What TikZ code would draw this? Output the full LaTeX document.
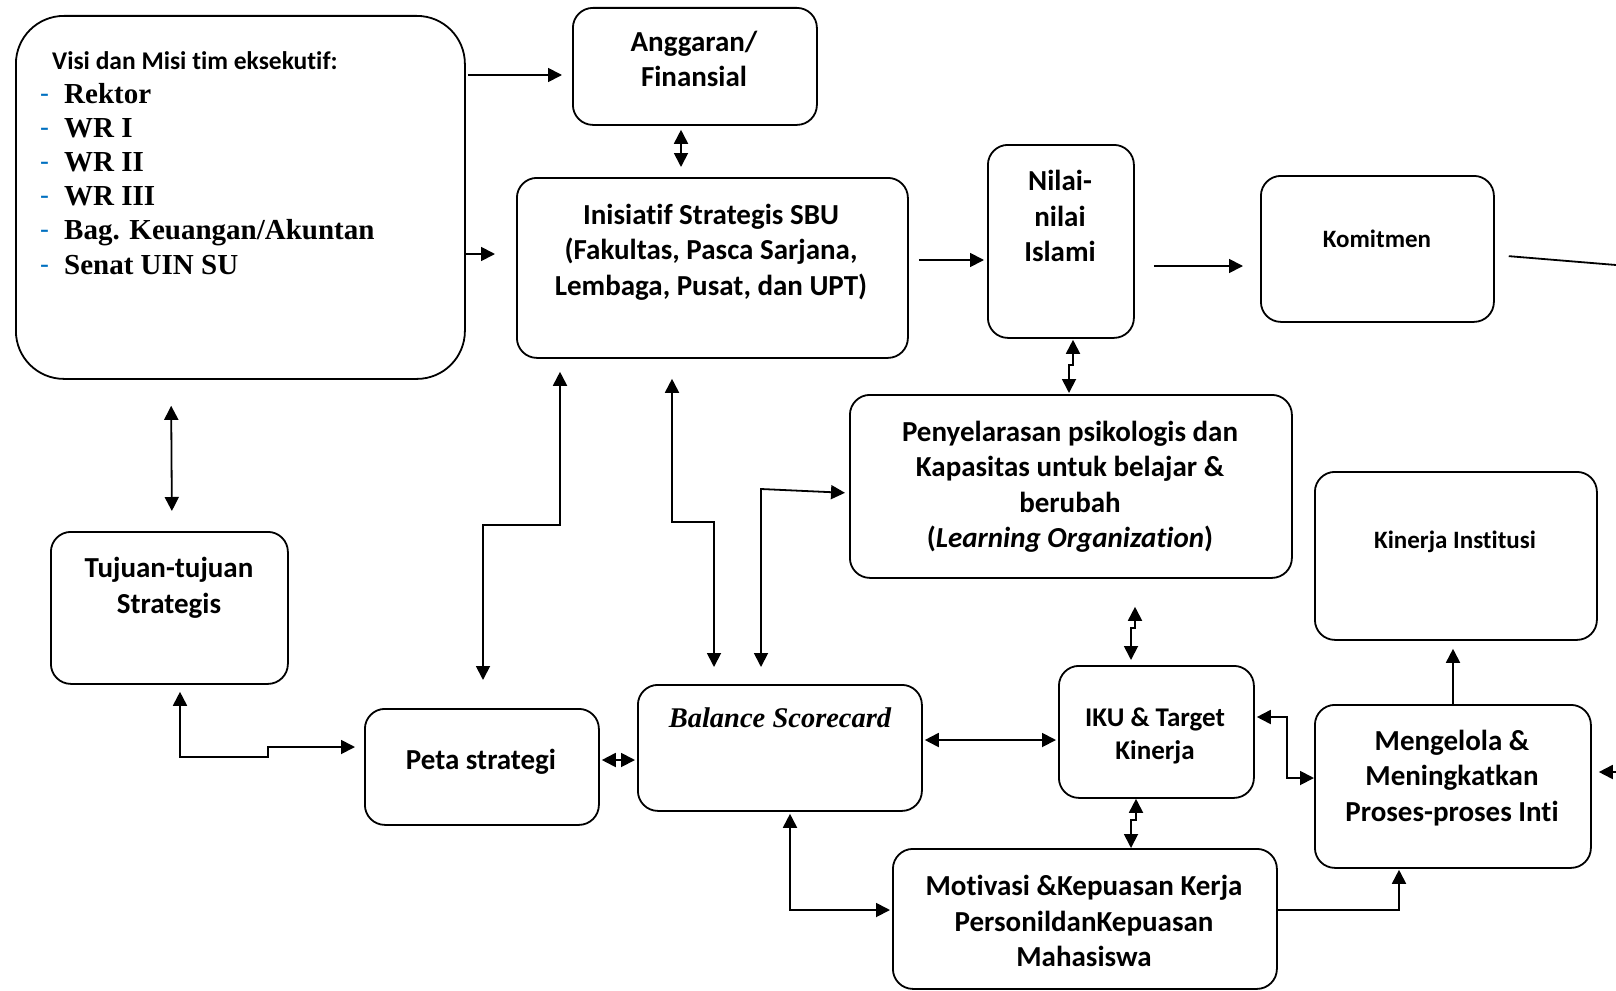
\documentclass[tikz,border=0pt]{standalone}
\usepackage{fontspec}
\usetikzlibrary{arrows.meta}
\newfontfamily\calib{Carlito}[Ligatures=NoCommon]
\newfontfamily\timesf{Liberation Serif}
\definecolor{dashblue}{RGB}{0,112,192}
\newcommand{\dashm}{\makebox[24pt][l]{\textcolor{dashblue}{\calib\mdseries -}}}
\begin{document}
\begin{tikzpicture}[x=1pt,y=-1pt,
  box/.style={draw, line width=1.8pt, rounded corners=20pt, inner sep=0pt, anchor=north west},
  lbl/.style={font={\calib\bfseries\fontsize{29}{35.5}\selectfont}, align=center, inner sep=0pt},
  lblsm/.style={font={\calib\bfseries\fontsize{25}{30.5}\selectfont}, align=center, inner sep=0pt},
  lblik/.style={font={\calib\bfseries\fontsize{27}{33}\selectfont}, align=center, inner sep=0pt},
  item/.style={font={\timesf\bfseries\fontsize{29}{34}\selectfont}, anchor=base west, inner sep=0pt},
  tip/.tip={Triangle[length=14pt,width=14pt]},
  conn/.style={line width=1.8pt},
  arr/.style={conn, -tip},
  darr/.style={conn, tip-tip}
]
\useasboundingbox (0,0) rectangle (1616,990);

% boxes
\node[box, rounded corners=48pt, minimum width=449pt, minimum height=363pt] (visi) at (15,15) {};
\node[box, minimum width=244pt, minimum height=117pt] (angg) at (572,7) {};
\node[box, minimum width=391pt, minimum height=180pt] (inis) at (516,177) {};
\node[box, minimum width=146pt, minimum height=193pt] (nilai) at (987,144) {};
\node[box, minimum width=233pt, minimum height=146pt] (komit) at (1260,175) {};
\node[box, minimum width=442pt, minimum height=183pt] (peny) at (849,394) {};
\node[box, minimum width=282pt, minimum height=168pt] (kiner) at (1314,471) {};
\node[box, minimum width=237pt, minimum height=152pt] (tuju) at (50,531) {};
\node[box, minimum width=234pt, minimum height=116pt] (peta) at (364,708) {};
\node[box, minimum width=284pt, minimum height=126pt] (bsc) at (637,684) {};
\node[box, minimum width=195pt, minimum height=132pt] (iku) at (1058,665) {};
\node[box, minimum width=276pt, minimum height=163pt] (meng) at (1314,704) {};
\node[box, minimum width=384pt, minimum height=140pt] (moti) at (892,848) {};

% texts
\node[font={\calib\bfseries\fontsize{25.5}{30}\selectfont}, anchor=base west, inner sep=0pt] (visiT) at (52,70) {Visi dan Misi tim eksekutif:};
\foreach \t [count=\i] in {Rektor, WR I, WR II, WR III, Bag. Keuangan/Akuntan, Senat UIN SU}
  \node[item] (visiL\i) at (40,{103+34.2*(\i-1)}) {\dashm\t};
\node[lbl] (anggT) at (694,59) {Anggaran/\\Finansial};
\node[lbl] (inisT) at (711,252) {Inisiatif Strategis SBU\\(Fakultas, Pasca Sarjana,\\Lembaga, Pusat, dan UPT)};
\node[lbl] (nilaiT) at (1060,216) {Nilai-\\nilai\\Islami};
\node[lblsm] (komitT) at (1377,239) {Komitmen};
\node[lbl] (penyT) at (1070,487) {Penyelarasan psikologis dan\\Kapasitas untuk belajar \&\\berubah\\(\textit{Learning Organization})};
\node[lblsm] (kinerT) at (1455,542) {Kinerja Institusi};
\node[lbl] (tujuT) at (169,588) {Tujuan-tujuan\\Strategis};
\node[lbl] (petaT) at (481,762) {Peta strategi};
\node[font={\timesf\bfseries\itshape\fontsize{28.5}{34}\selectfont}, inner sep=0pt] (bscT) at (780,718) {Balance Scorecard};
\node[lblik] (ikuT) at (1155,736) {IKU \& Target\\Kinerja};
\node[lbl] (mengT) at (1452,778) {Mengelola \&\\Meningkatkan\\Proses-proses Inti};
\node[lbl] (motiT) at (1084,921) {Motivasi \&Kepuasan Kerja\\PersonildanKepuasan\\Mahasiswa};

% connectors
\draw[arr, shorten <=2pt, shorten >=10pt] (visi.east |- 0,75) -- (angg.west |- 0,75);
\draw[arr, shorten >=21pt] (visi.east |- 0,254) -- (inis.west |- 0,254);
\draw[darr, shorten <=4pt, shorten >=10pt] (angg.south -| 681,0) -- (inis.north -| 681,0);
\draw[arr, shorten <=10pt, shorten >=3pt] (inis.east |- 0,260) -- (nilai.west |- 0,260);
\draw[arr, shorten <=19pt, shorten >=17pt] (nilai.east |- 0,266) -- (komit.west |- 0,266);
\coordinate (edgeA) at (1616,265);
\draw[conn, shorten <=14pt] (komit.east |- 0,255) -- (edgeA);
\coordinate (edgeB) at (1616,772);
\draw[arr, shorten >=7pt] (edgeB) -- (meng.east |- edgeB);
\draw[darr, shorten <=1pt, shorten >=1pt] (nilai.south -| 1073,0) -- (1073,365) -- (1069,365) -- (peny.north -| 1069,0);
\draw[darr, shorten <=26pt, shorten >=20pt] (visi.south -| 171,0) -- (tuju.north -| 172,0);
\draw[darr, shorten <=7pt, shorten >=9pt] (tuju.south -| 180,0) |- (268,757) |- (peta.west |- 0,747);
\draw[darr, shorten <=28pt, shorten >=13pt] (peta.north -| 483,0) |- (560,525) -- (inis.south -| 560,0);
\draw[darr, shorten <=20pt, shorten >=17pt] (inis.south -| 672,0) |- (714,522) -- (bsc.north -| 714,0);
\draw[darr, shorten <=17pt, shorten >=4pt] (bsc.north -| 761,0) -- (761,489) -- (peny.west |- 0,493);
\draw[darr, shorten <=2pt, shorten >=2pt] (peta.east |- 0,760) -- (bsc.west |- 0,760);
\draw[darr, shorten <=2pt, shorten >=2pt] (bsc.east |- 0,740) -- (iku.west |- 0,740);
\draw[darr, shorten <=28pt, shorten >=5pt] (peny.south -| 1135,0) -- (1135,628) -- (1131,628) -- (iku.north -| 1131,0);
\draw[darr] (iku.south -| 1136,0) -- (1136,820) -- (1131,820) -- (moti.north -| 1131,0);
\draw[darr, shorten <=2pt] (iku.east |- 0,717) -| (1287,778) -- (meng.west |- 0,778);
\draw[arr, shorten >=8pt] (meng.north -| 1453,0) -- (kiner.south -| 1453,0);
\draw[darr, shorten <=2pt, shorten >=2pt] (bsc.south -| 790,0) |- (moti.west |- 0,910);
\draw[arr, shorten >=1pt] (moti.east |- 0,910) -| (meng.south -| 1399,0);
\end{tikzpicture}
\end{document}
